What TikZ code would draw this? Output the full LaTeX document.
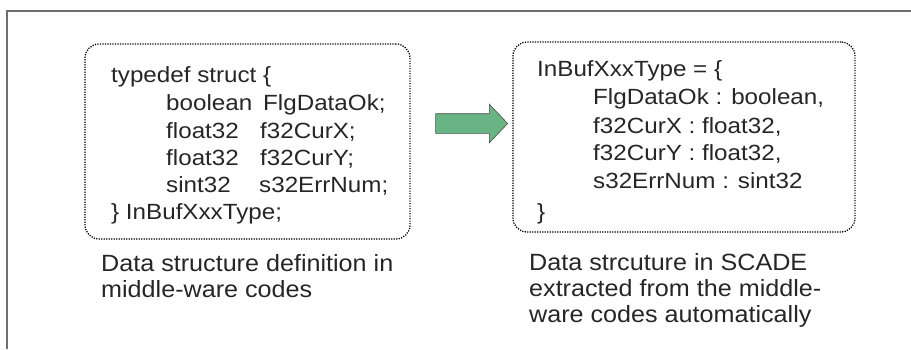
\documentclass[tikz,border=0pt]{standalone}
\usepackage{fontspec}
\setmainfont{Liberation Sans}
\newfontfamily\codefont[FakeStretch=1.1]{Liberation Sans}
\newfontfamily\capfont[FakeStretch=1.07]{Liberation Sans}
\usetikzlibrary{shapes.arrows}
\definecolor{arrowgreen}{RGB}{104,180,132}
\definecolor{framegray}{RGB}{110,110,110}
\begin{document}
\begin{tikzpicture}[x=1pt,y=-1pt,
  codebox/.style={draw=black, line width=1.3pt, dash pattern=on 1.2pt off 1.3pt,
    rounded corners=14pt, inner sep=0pt},
  code/.style={anchor=base west, inner sep=0pt,
    font=\codefont\fontsize{22}{26}\selectfont, text=black!85},
  caption/.style={anchor=base west, inner sep=0pt,
    font=\capfont\fontsize{23.5}{27}\selectfont, text=black!85}]
\useasboundingbox (0,0) rectangle (911,349);

% outer frame (only its top and left sides are visible)
\draw[framegray, line width=1.2pt] (7,349) -- (7,11) -- (911,11);

% the two dotted code boxes
\node[codebox, minimum width=325pt, minimum height=195pt] (cbox) at (247.5,141.5) {};
\node[codebox, minimum width=342pt, minimum height=190pt] (sbox) at (684,137) {};

% conversion arrow
\node[single arrow, fill=arrowgreen, draw=black!70, line width=0.6pt,
  minimum height=72pt, minimum width=38pt, inner sep=0pt,
  single arrow head extend=9.5pt, single arrow tip angle=93,
  text height=19pt] (conv) at (467,123.5) {};

% C struct definition
\node[code] (c1) at (111,82) {typedef struct \{};
\node[code] (c2a) at (166,110) {boolean};
\node[code] (c2b) at (263,110) {FlgDataOk;};
\node[code] (c3a) at (166,138) {float32};
\node[code] (c3b) at (260,138) {f32CurX;};
\node[code] (c4a) at (166,165) {float32};
\node[code] (c4b) at (260,165) {f32CurY;};
\node[code] (c5a) at (166,192) {sint32};
\node[code] (c5b) at (259,192) {s32ErrNum;};
\node[code] (c6) at (111,219) {\} InBufXxxType;};

% SCADE type definition
\node[code] (s1) at (537,76) {InBufXxxType = \{};
\node[code] (s2) at (593,104) {FlgDataOk : boolean,};
\node[code] (s3) at (593,133) {f32CurX : float32,};
\node[code] (s4) at (593,160) {f32CurY : float32,};
\node[code] (s5) at (593,188) {s32ErrNum : sint32};
\node[code] (s6) at (537,219) {\}};

% captions
\node[caption] (l1) at (101,271) {Data structure definition in};
\node[caption] (l2) at (101,297) {middle-ware codes};
\node[caption] (r1) at (529,270) {Data strcuture in SCADE};
\node[caption] (r2) at (529,296) {extracted from the middle-};
\node[caption] (r3) at (529,322) {ware codes automatically};
\end{tikzpicture}
\end{document}
